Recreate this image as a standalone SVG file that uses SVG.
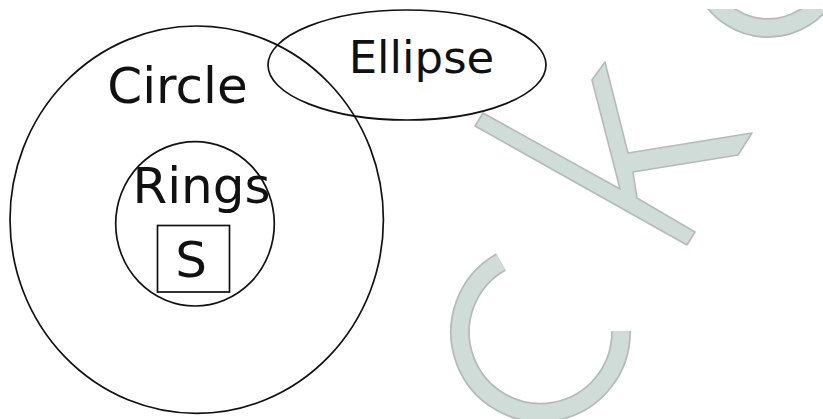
<svg xmlns="http://www.w3.org/2000/svg" width="823" height="419" viewBox="0 0 823 419">
  <defs>
    <style>
      .shape { fill: none; stroke: #111; stroke-width: 1.7; }
      .lbl { font-family: "DejaVu Sans", Verdana, sans-serif; fill: #111; text-anchor: middle; }
      .wm-edge { fill: none; stroke: #b3bcb9; stroke-linecap: butt; }
      .wm-fill { fill: none; stroke: #cfdcd8; stroke-linecap: butt; }
    </style>
    <clipPath id="topclip"><rect x="0" y="9" width="823" height="410"/></clipPath>
  </defs>
  <rect width="823" height="419" fill="#ffffff"/>

  <g id="watermark">
    <path class="wm-edge" stroke-width="20" d="M 501 262 A 80.5 80.5 0 1 0 621 331"/>
    <path class="wm-fill" stroke-width="16.5" d="M 501 262 A 80.5 80.5 0 1 0 621 331"/>
    <g clip-path="url(#topclip)">
      <path class="wm-edge" stroke-width="20" d="M 706 -12 A 68 68 0 0 0 830 -12"/>
      <path class="wm-fill" stroke-width="16.5" d="M 706 -12 A 68 68 0 0 0 830 -12"/>
    </g>
    <polygon fill="#cfdcd8" stroke="#b3bcb9" stroke-width="1.6" stroke-linejoin="round"
      points="475,126 483,113 620,189 592,80 605,62 628,153 752,133 738,155 633,172 637,198 695,232 687,245"/>
  </g>

  <g id="circle">
    <ellipse class="shape" cx="196.7" cy="219.7" rx="186.7" ry="193.7"/>
    <text class="lbl" x="177.5" y="103" font-size="50">Circle</text>
  </g>

  <g id="ellipse">
    <ellipse class="shape" cx="407" cy="65" rx="139" ry="55"/>
    <text class="lbl" x="421.5" y="73" font-size="45">Ellipse</text>
  </g>

  <g id="rings">
    <ellipse class="shape" cx="195" cy="223.8" rx="79.3" ry="82.2"/>
    <text class="lbl" x="201.5" y="203" font-size="50">Rings</text>
  </g>

  <g id="s">
    <rect class="shape" x="157.5" y="225.5" width="72" height="66.5"/>
    <text class="lbl" x="191" y="276.5" font-size="50">S</text>
  </g>

  <g id="connectors"></g>
</svg>
